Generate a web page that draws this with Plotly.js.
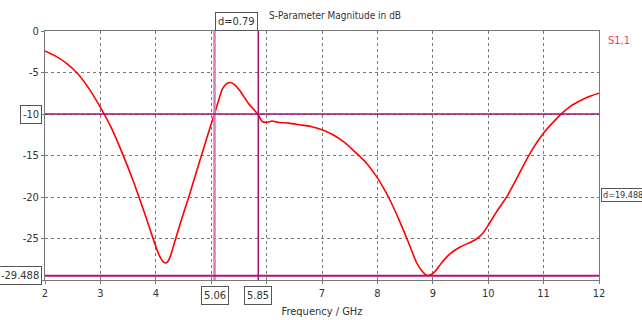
<!DOCTYPE html>
<html>
<head>
<meta charset="utf-8">
<script src="https://cdn.plot.ly/plotly-3.0.1.min.js"></script>
<style>html,body{margin:0;padding:0;background:#fff;}#chart{width:642px;height:320px;}</style>
</head>
<body>
<div id="chart"></div>
<script>
// Data
const freq = [2.0,2.2,2.4,2.6,2.8,3.0,3.2,3.4,3.6,3.8,3.95,4.03,4.09,4.14,4.18,4.22,4.27,4.35,4.45,4.6,4.8,5.0,5.1,5.2,5.28,5.35,5.42,5.52,5.67,5.85,5.92,6.0,6.1,6.2,6.4,6.6,6.8,7.0,7.2,7.4,7.6,7.8,8.0,8.1,8.2,8.4,8.55,8.7,8.8,8.87,8.92,8.98,9.05,9.15,9.3,9.5,9.7,9.8,9.9,10.0,10.15,10.35,10.55,10.75,11.0,11.2,11.33,11.5,11.66,11.8,12.0];
const s11 = [-2.4,-3.05,-3.95,-5.2,-7.0,-9.2,-11.7,-14.8,-18.2,-22.0,-25.0,-26.5,-27.4,-27.85,-27.95,-27.75,-27.0,-25.2,-23.0,-19.9,-15.5,-11.2,-9.1,-7.0,-6.35,-6.2,-6.45,-7.2,-8.7,-10.1,-10.9,-11.0,-10.85,-11.0,-11.1,-11.3,-11.5,-11.9,-12.5,-13.4,-14.6,-15.9,-17.7,-18.8,-20.0,-22.9,-25.3,-27.8,-28.9,-29.35,-29.45,-29.3,-28.9,-28.0,-26.9,-26.0,-25.4,-25.0,-24.4,-23.4,-21.8,-19.8,-17.3,-14.8,-12.3,-10.8,-9.93,-9.0,-8.4,-7.95,-7.5];
const seriesName = "S1,1";
const xTickVals = [2,3,4,5,6,7,8,9,10,11,12];
const xTickText = ["2","3","4","","","7","8","9","10","11","12"];
const yTickVals = [0,-5,-10,-15,-20,-25,-30];
const yTickText = ["0","-5","","-15","-20","-25",""];
const markerX = [5.06, 5.85];
const markerXLabels = ["5.06", "5.85"];
const markerY = [-10, -29.488];
const markerYLabels = ["-10", "-29.488"];
const deltaX = "d=0.79";
const deltaY = "d=19.488";

const FONT = "Liberation Sans Narrow, DejaVu Sans Condensed, Liberation Sans, sans-serif";
const boxStyle = {bgcolor:"#fff", bordercolor:"#555", borderwidth:1, borderpad:2, font:{family:FONT,size:11,color:"#333"}, showarrow:false};

const trace = {x:freq, y:s11, type:"scatter", mode:"lines", name:seriesName,
  line:{color:"#ff0000", width:1.6, shape:"spline", smoothing:0.5}, hoverinfo:"skip"};

const shapes = [
  {type:"line", xref:"x", yref:"paper", x0:markerX[0], x1:markerX[0], y0:0, y1:1, line:{color:"#d47cbf", width:2.5}},
  {type:"line", xref:"x", yref:"paper", x0:markerX[1], x1:markerX[1], y0:0, y1:1, line:{color:"#a3106f", width:1.5}},
  {type:"line", xref:"paper", yref:"y", x0:0, x1:1, y0:markerY[0], y1:markerY[0], line:{color:"#a3106f", width:1.5}},
  {type:"line", xref:"paper", yref:"y", x0:0, x1:1, y0:markerY[1], y1:markerY[1], line:{color:"#b0127a", width:2}}
];

const annotations = [
  Object.assign({text:markerXLabels[0], xref:"x", yref:"paper", x:markerX[0], y:-0.025, yanchor:"top", xanchor:"center"}, boxStyle),
  Object.assign({text:markerXLabels[1], xref:"x", yref:"paper", x:markerX[1], y:-0.025, yanchor:"top", xanchor:"center"}, boxStyle),
  Object.assign({text:markerYLabels[0], xref:"paper", yref:"y", x:-0.005, y:markerY[0], xanchor:"right", yanchor:"middle"}, boxStyle),
  Object.assign({text:markerYLabels[1], xref:"paper", yref:"y", x:-0.005, y:markerY[1], xanchor:"right", yanchor:"middle"}, boxStyle),
  Object.assign({text:deltaX, xref:"x", yref:"paper", x:(markerX[0]+markerX[1])/2, y:1.0, xanchor:"center", yanchor:"bottom"}, boxStyle),
  Object.assign({}, boxStyle, {text:deltaY, xref:"paper", yref:"y", x:1.004, y:(markerY[0]+markerY[1])/2, xanchor:"left", yanchor:"middle", borderpad:1, font:{family:FONT,size:9,color:"#333"}}),
  {text:seriesName, xref:"paper", yref:"paper", x:1.012, y:0.96, xanchor:"left", yanchor:"middle", showarrow:false, font:{family:FONT,size:11,color:"#ff3355"}},
  {text:"S-Parameter Magnitude in dB", xref:"paper", yref:"paper", x:0.4, y:1.0, xanchor:"left", yanchor:"bottom", yshift:8, showarrow:false, font:{family:FONT,size:10,color:"#333"}}
];

const axisCommon = {showline:true, mirror:true, linecolor:"#777", linewidth:1, showgrid:true, gridcolor:"#777", griddash:"dot", gridwidth:1, zeroline:false, ticks:"outside", ticklen:3, tickcolor:"#777", tickfont:{family:FONT,size:11,color:"#333"}, fixedrange:true};

const layout = {
  width:642, height:320,
  margin:{l:45, r:43, t:31, b:40, pad:0},
  paper_bgcolor:"#fff", plot_bgcolor:"#fff",
  showlegend:false,
  xaxis:Object.assign({}, axisCommon, {range:[2,12], tickvals:xTickVals, ticktext:xTickText,
    title:{text:"Frequency / GHz", font:{family:FONT,size:11,color:"#333"}, standoff:8}}),
  yaxis:Object.assign({}, axisCommon, {range:[-30,0], tickvals:yTickVals, ticktext:yTickText}),
  shapes:shapes, annotations:annotations
};

Plotly.newPlot("chart", [trace], layout, {staticPlot:true, displayModeBar:false});
</script>
</body>
</html>
